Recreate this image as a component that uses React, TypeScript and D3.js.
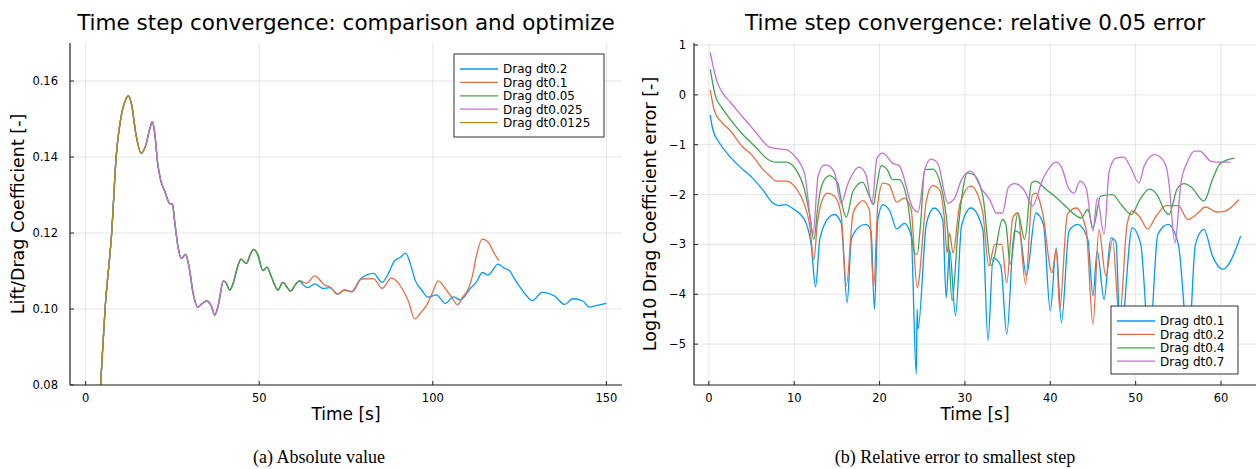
import * as d3 from "d3";

// ---- left panel: absolute drag coefficient ----
const sharedEarly: [number, number][] = [
  [0, 0.0], [2, 0.04], [3.5, 0.066], [4.3, 0.08], [5.6, 0.1], [7.5, 0.12], [8.8, 0.14],
  [10.3, 0.151], [11.5, 0.155], [12.3, 0.1561], [13.2, 0.154], [14.5, 0.146], [16.0, 0.141],
  [17.3, 0.143], [18.5, 0.1475], [19.2, 0.1493], [19.8, 0.147], [20.8, 0.138], [21.6, 0.134],
  [22.8, 0.131], [24.2, 0.1278], [25.0, 0.1276], [25.6, 0.1234], [26.5, 0.117], [27.6, 0.1133],
  [28.8, 0.1144], [29.8, 0.111], [31, 0.104], [32.3, 0.1005], [33.5, 0.1014], [34.9, 0.1021],
  [36.2, 0.1008], [37.2, 0.0984], [38.2, 0.101], [39.7, 0.1074],
];
const sharedMid: [number, number][] = [
  [40.5, 0.1068], [41.5, 0.105], [42.5, 0.1068], [44.0, 0.1118], [44.8, 0.1131], [46.3, 0.112],
  [47.5, 0.1145], [48.4, 0.1157], [49.5, 0.1145], [51.1, 0.1101], [52.2, 0.111], [53.5, 0.1085],
  [55.4, 0.105], [56.8, 0.107], [57.8, 0.106], [59.0, 0.1047], [60.5, 0.1065], [61.6, 0.1074],
];
const tailDt02: [number, number][] = [
  [62.6, 0.1064], [64.0, 0.1056], [66, 0.1066], [68.4, 0.1054], [70.3, 0.1056], [72.7, 0.1039],
  [74.6, 0.105], [76.8, 0.1046], [79.4, 0.1081], [81, 0.109], [82.9, 0.1094], [85.4, 0.107],
  [87, 0.109], [89, 0.1127], [90.5, 0.1135], [92.2, 0.1147], [93.5, 0.112], [95, 0.1074],
  [96.8, 0.105], [98.6, 0.1031], [101, 0.1037], [103.6, 0.1015], [106, 0.1032], [107.9, 0.1024],
  [110.8, 0.1054], [112.5, 0.107], [114.3, 0.1096], [115.9, 0.1089], [118.8, 0.1118],
  [120.5, 0.1108], [122.1, 0.1101], [123.5, 0.108], [125, 0.1059], [127, 0.1035], [128.7, 0.1022],
  [131.5, 0.1044], [135.1, 0.1034], [138, 0.1012], [140.3, 0.1027], [143.2, 0.1021], [145, 0.1005],
  [147.1, 0.1009], [150, 0.1015],
];
const tailDt01: [number, number][] = [
  [62.6, 0.107], [63.6, 0.1068], [66, 0.1087], [68.8, 0.1063], [70.7, 0.1056], [72.4, 0.1039],
  [74.6, 0.105], [76.5, 0.1045], [79.4, 0.1079], [82.9, 0.108], [85.4, 0.1054], [88, 0.1081],
  [91.4, 0.105], [93, 0.102], [94.8, 0.0974], [96.5, 0.099], [98.1, 0.1008], [100, 0.1045],
  [101.5, 0.1074], [103.9, 0.105], [105.5, 0.103], [107.1, 0.1011], [108.5, 0.103], [110.1, 0.105],
  [111.5, 0.109], [112.5, 0.1138], [114.3, 0.1184], [116.2, 0.1173], [117.5, 0.115], [119, 0.1127],
];
const tailDt005: [number, number][] = [[62.5, 0.1072]];
const tailDt0025: [number, number][] = [[40.2, 0.1072]];

const absNames = ["Drag dt0.2", "Drag dt0.1", "Drag dt0.05", "Drag dt0.025", "Drag dt0.0125"];
const absSeries: [number, number][][] = [
  [...sharedEarly, ...sharedMid, ...tailDt02],
  [...sharedEarly, ...sharedMid, ...tailDt01],
  [...sharedEarly, ...sharedMid, ...tailDt005],
  [...sharedEarly, ...tailDt0025],
  sharedEarly.filter((d) => d[0] <= 17.3),
];
const absXTicks = [0, 50, 100, 150];
const absYTicks = [0.08, 0.1, 0.12, 0.14, 0.16];

// ---- right panel: log10 relative error ----
const errDt01: [number, number][] = [
  [0.16, -0.4], [0.47, -0.7], [1.2, -0.95], [2.42, -1.23], [4, -1.5], [5, -1.65], [6.3, -1.9],
  [7.5, -2.17], [8.2, -2.22], [8.9, -2.2], [10, -2.3], [11.2, -2.5], [12, -3.03], [12.5, -3.85],
  [13, -2.9], [14.1, -2.45], [14.7, -2.4], [15.5, -2.57], [16.2, -4.17], [16.7, -2.9], [17.6, -2.65],
  [18.4, -2.6], [19, -2.73], [19.4, -4.3], [19.8, -2.5], [20.4, -2.2], [21.2, -2.33], [22, -2.69],
  [22.9, -2.58], [23.7, -2.83], [24.3, -5.6], [24.4, -4.3], [24.5, -4.7], [25.5, -2.57],
  [26.4, -2.27], [27.4, -2.5], [27.8, -4.07], [28.2, -3.1], [28.9, -4.43], [29.6, -2.63],
  [30.7, -2.27], [32.1, -2.7], [32.7, -4.93], [33.3, -3.27], [34.2, -3.43], [34.9, -4.8],
  [35.8, -2.73], [36.4, -2.77], [37.2, -3.63], [38.3, -2.37], [39.2, -2.6], [40, -4.33],
  [40.7, -3.07], [41.3, -4.57], [42.2, -2.73], [43.2, -2.6], [44.4, -2.9], [45, -4.03],
  [45.5, -3.13], [46.3, -4.1], [47.1, -2.87], [47.7, -2.95], [48.2, -4.9], [49.6, -2.67],
  [50.6, -3.0], [51.6, -5.0], [52.6, -2.8], [53.8, -2.6], [55.0, -3.0], [56.2, -5.0],
  [57.0, -3.0], [58, -2.7], [59, -3.23], [60.2, -3.5], [62.3, -2.83],
];
const errDt02: [number, number][] = [
  [0.16, 0.1], [0.67, -0.33], [1.5, -0.55], [2.42, -0.7], [4, -1.05], [5, -1.2], [6.3, -1.49],
  [7.1, -1.62], [7.9, -1.73], [9.06, -1.73], [10.2, -1.87], [11.2, -2.2], [11.8, -2.6],
  [12.3, -3.3], [12.7, -2.6], [13.2, -2.15], [13.9, -1.97], [14.7, -2.03], [15.5, -2.4],
  [16.1, -3.83], [16.9, -2.37], [17.6, -2.17], [18, -2.12], [18.8, -2.3], [19.3, -3.87],
  [19.8, -2.17], [20.4, -1.77], [21.1, -1.8], [22, -2.15], [22.9, -2.07], [23.7, -2.3],
  [24.4, -3.87], [25.5, -2.1], [26.2, -1.82], [27, -1.9], [27.6, -2.5], [27.9, -3.17],
  [28.2, -2.77], [28.6, -3.17], [29.4, -2.2], [30.7, -1.83], [31.5, -2.0], [32.1, -2.37],
  [32.8, -3.43], [33.5, -3.0], [34.3, -3.0], [34.9, -3.77], [35.6, -2.47], [36.2, -2.37],
  [37.1, -3.8], [37.9, -2.0], [38.3, -1.97], [39.1, -2.37], [40.2, -3.57], [40.7, -3.1],
  [41.1, -4.3], [42, -2.4], [43, -2.27], [44.2, -2.7], [45, -4.6], [45.7, -2.7], [46.5, -3.63],
  [47.3, -2.9], [48.1, -4.5], [49, -2.6], [49.6, -2.33], [50.5, -2.45], [51.4, -2.69],
  [52.4, -2.43], [53.6, -2.22], [55, -2.22], [56.1, -2.5], [57.1, -2.4], [58.2, -2.25],
  [59.5, -2.35], [60.5, -2.33], [62.1, -2.1],
];
const errDt04: [number, number][] = [
  [0.16, 0.51], [0.78, -0.03], [1.5, -0.25], [2.42, -0.47], [4, -0.8], [5.5, -1.05],
  [6.72, -1.27], [7.9, -1.35], [9.06, -1.35], [10.2, -1.5], [11.2, -1.9], [11.8, -2.4],
  [12.3, -2.9], [12.8, -2.2], [13.2, -1.83], [14.1, -1.62], [15.1, -1.77], [15.6, -2.2],
  [16.1, -2.45], [16.9, -1.93], [18, -1.75], [18.8, -2.03], [19.3, -2.2], [19.6, -1.9],
  [20.2, -1.42], [20.9, -1.5], [21.5, -1.7], [22.3, -1.7], [23.3, -2.17], [24.1, -3.17],
  [24.4, -3.2], [24.8, -2.6], [25.3, -1.5], [26.2, -1.49], [27.2, -1.83], [28, -2.77],
  [28.5, -4.13], [29.2, -2.7], [30.3, -1.57], [31, -1.6], [32.1, -2.03], [33.1, -3.43],
  [34.4, -2.5], [34.8, -2.6], [35.3, -3.4], [36.2, -2.37], [37.0, -2.9], [37.8, -1.77],
  [38.3, -1.73], [39.5, -1.9], [40.5, -2.03], [42, -2.27], [43.6, -2.47], [44.4, -2.3],
  [45, -2.67], [45.9, -2.03], [47.3, -2.0], [48.3, -2.2], [49.5, -2.4], [50.5, -2.1],
  [51.6, -1.89], [52.5, -2.0], [53.5, -2.35], [53.9, -2.4], [54.9, -1.87], [55.7, -1.78],
  [56.5, -1.85], [58, -2.13], [59, -1.7], [59.8, -1.4], [60.8, -1.3], [61.6, -1.27],
];
const errDt07: [number, number][] = [
  [0.16, 0.85], [0.94, 0.27], [1.64, 0.03], [2.42, -0.13], [3.5, -0.35], [4.5, -0.55],
  [5.5, -0.75], [6.3, -0.92], [7.1, -1.05], [8, -1.08], [9.06, -1.1], [10, -1.22], [11.2, -1.57],
  [11.9, -2.5], [12.2, -2.8], [12.8, -1.63], [13.5, -1.41], [13.8, -1.41], [14.7, -1.55],
  [15.5, -2.17], [16.3, -1.78], [17.6, -1.45], [18.4, -1.6], [19.1, -2.18], [19.7, -1.27],
  [20.4, -1.17], [21.5, -1.37], [22.3, -1.42], [23.9, -2.27], [24.5, -2.35], [25.3, -1.5],
  [26, -1.29], [26.8, -1.37], [28, -2.17], [28.8, -2.07], [29.6, -1.7], [30.7, -1.53], [32, -1.9],
  [32.9, -2.1], [33.7, -2.37], [34.4, -2.37], [35.1, -1.85], [35.8, -1.78], [37, -1.93],
  [37.9, -2.23], [39.1, -1.7], [40.7, -1.35], [41.3, -1.45], [42.2, -1.89], [42.8, -1.97],
  [43.5, -1.73], [44.2, -1.87], [45, -2.73], [45.5, -2.07], [46.3, -2.8], [46.9, -1.53],
  [47.7, -1.27], [48.6, -1.25], [49.4, -1.45], [50.4, -1.77], [51, -1.43], [52.2, -1.2],
  [52.9, -1.25], [53.6, -1.45], [53.9, -1.77], [54.6, -2.97], [55.3, -1.77], [56.1, -1.33],
  [56.9, -1.13], [57.5, -1.13], [58.8, -1.33], [59.5, -1.35], [61.1, -1.35],
];
const errNames = ["Drag dt0.1", "Drag dt0.2", "Drag dt0.4", "Drag dt0.7"];
const errSeries = [errDt01, errDt02, errDt04, errDt07];
const errXTicks = [0, 10, 20, 30, 40, 50, 60];
const errYTicks = [1, 0, -1, -2, -3, -4, -5];

const palette = ["#009AFA", "#E36F47", "#3EA44E", "#C371D2", "#AC8E18"];
const sans = "'DejaVu Sans', sans-serif";

type PanelProps = {
  id: string;
  title: string;
  xLabel: string;
  yLabel: string;
  xDomain: [number, number];
  yDomain: [number, number];
  x0: number;
  x1: number;
  xTicks: number[];
  yTicks: number[];
  yFmt: (v: number) => string;
  yLabelX: number;
  tickRight: number;
  series: [number, number][][];
  names: string[];
  legend: { x: number; y: number; w: number; h: number };
  curve: d3.CurveFactory;
};

const Panel = (p: PanelProps) => {
  const top = 43;
  const bottom = 385;
  const x = d3.scaleLinear().domain(p.xDomain).range([p.x0, p.x1]);
  const y = d3.scaleLinear().domain(p.yDomain).range([bottom, top]);
  const line = d3
    .line<[number, number]>()
    .x((d) => x(d[0]))
    .y((d) => y(d[1]))
    .curve(p.curve);
  const cx = (p.x0 + p.x1) / 2;
  const lg = p.legend;
  return (
    <g>
      <defs>
        <clipPath id={p.id}>
          <rect x={p.x0} y={top} width={p.x1 - p.x0} height={bottom - top} />
        </clipPath>
      </defs>
      {p.xTicks.map((t) => (
        <line key={"gx" + t} x1={x(t)} x2={x(t)} y1={top} y2={bottom} stroke="#000" strokeOpacity={0.1} />
      ))}
      {p.yTicks.map((t) => (
        <line key={"gy" + t} x1={p.x0} x2={p.x1} y1={y(t)} y2={y(t)} stroke="#000" strokeOpacity={0.1} />
      ))}
      <g clipPath={`url(#${p.id})`}>
        {p.series.map((s, i) => (
          <path key={i} d={line(s) ?? ""} fill="none" stroke={palette[i]} strokeWidth={1.3} />
        ))}
      </g>
      <line x1={p.x0} x2={p.x0} y1={top} y2={bottom} stroke="#222" strokeWidth={1.2} />
      <line x1={p.x0} x2={p.x1} y1={bottom} y2={bottom} stroke="#222" strokeWidth={1.2} />
      {p.xTicks.map((t) => (
        <g key={"tx" + t}>
          <line x1={x(t)} x2={x(t)} y1={bottom} y2={bottom - 4} stroke="#222" />
          <text x={x(t)} y={402} textAnchor="middle" fontSize={11.5} fontFamily={sans}>
            {t}
          </text>
        </g>
      ))}
      {p.yTicks.map((t) => (
        <g key={"ty" + t}>
          <line x1={p.x0} x2={p.x0 + 4} y1={y(t)} y2={y(t)} stroke="#222" />
          <text x={p.tickRight} y={y(t) + 4} textAnchor="end" fontSize={11.5} fontFamily={sans}>
            {p.yFmt(t)}
          </text>
        </g>
      ))}
      <text x={cx} y={29.5} textAnchor="middle" fontSize={21.5} fontFamily={sans}>
        {p.title}
      </text>
      <text x={cx} y={420} textAnchor="middle" fontSize={17} fontFamily={sans}>
        {p.xLabel}
      </text>
      <text
        transform={`translate(${p.yLabelX},${(top + bottom) / 2}) rotate(-90)`}
        textAnchor="middle"
        fontSize={17.5}
        fontFamily={sans}
        dy="0.35em"
      >
        {p.yLabel}
      </text>
      <rect x={lg.x} y={lg.y} width={lg.w} height={lg.h} fill="#fff" stroke="#333" strokeWidth={1} />
      {p.names.map((n, i) => {
        const ly = lg.y + 15 + i * 13.4;
        return (
          <g key={n}>
            <line x1={lg.x + 6} x2={lg.x + 44} y1={ly} y2={ly} stroke={palette[i]} strokeWidth={1.3} />
            <text x={lg.x + 49} y={ly + 4.3} fontSize={12} fontFamily={sans}>
              {n}
            </text>
          </g>
        );
      })}
    </g>
  );
};

const fmtAbs = (v: number) => v.toFixed(2);
const fmtErr = (v: number) => (v < 0 ? "\u2212" + Math.abs(v) : String(v));
const serif = "'Liberation Serif', serif";

export default function App() {
  return (
    <svg
      width={1256}
      height={469}
      style={{ position: "absolute", left: 0, top: 0, background: "#fff" }}
    >
      <Panel
        id="clipA"
        title="Time step convergence: comparison and optimize"
        xLabel="Time [s]"
        yLabel="Lift/Drag Coefficient [-]"
        xDomain={[-4.5, 154.5]}
        yDomain={[0.08, 0.17]}
        x0={70}
        x1={622}
        xTicks={absXTicks}
        yTicks={absYTicks}
        yFmt={fmtAbs}
        yLabelX={18}
        tickRight={58}
        series={absSeries}
        names={absNames}
        legend={{ x: 454, y: 54, w: 150, h: 83 }}
        curve={d3.curveMonotoneX}
      />
      <Panel
        id="clipB"
        title="Time step convergence: relative 0.05 error"
        xLabel="Time [s]"
        yLabel="Log10 Drag Coefficient error [-]"
        xDomain={[-1.74, 64.1]}
        yDomain={[-5.82, 1.04]}
        x0={694}
        x1={1256}
        xTicks={errXTicks}
        yTicks={errYTicks}
        yFmt={fmtErr}
        yLabelX={650}
        tickRight={686}
        series={errSeries}
        names={errNames}
        legend={{ x: 1111, y: 306, w: 127, h: 68 }}
        curve={d3.curveMonotoneX}
      />
      <text x={319} y={463} textAnchor="middle" fontSize={18} fontFamily={serif}>
        (a) Absolute value
      </text>
      <text x={955} y={463} textAnchor="middle" fontSize={18} fontFamily={serif}>
        (b) Relative error to smallest step
      </text>
    </svg>
  );
}
